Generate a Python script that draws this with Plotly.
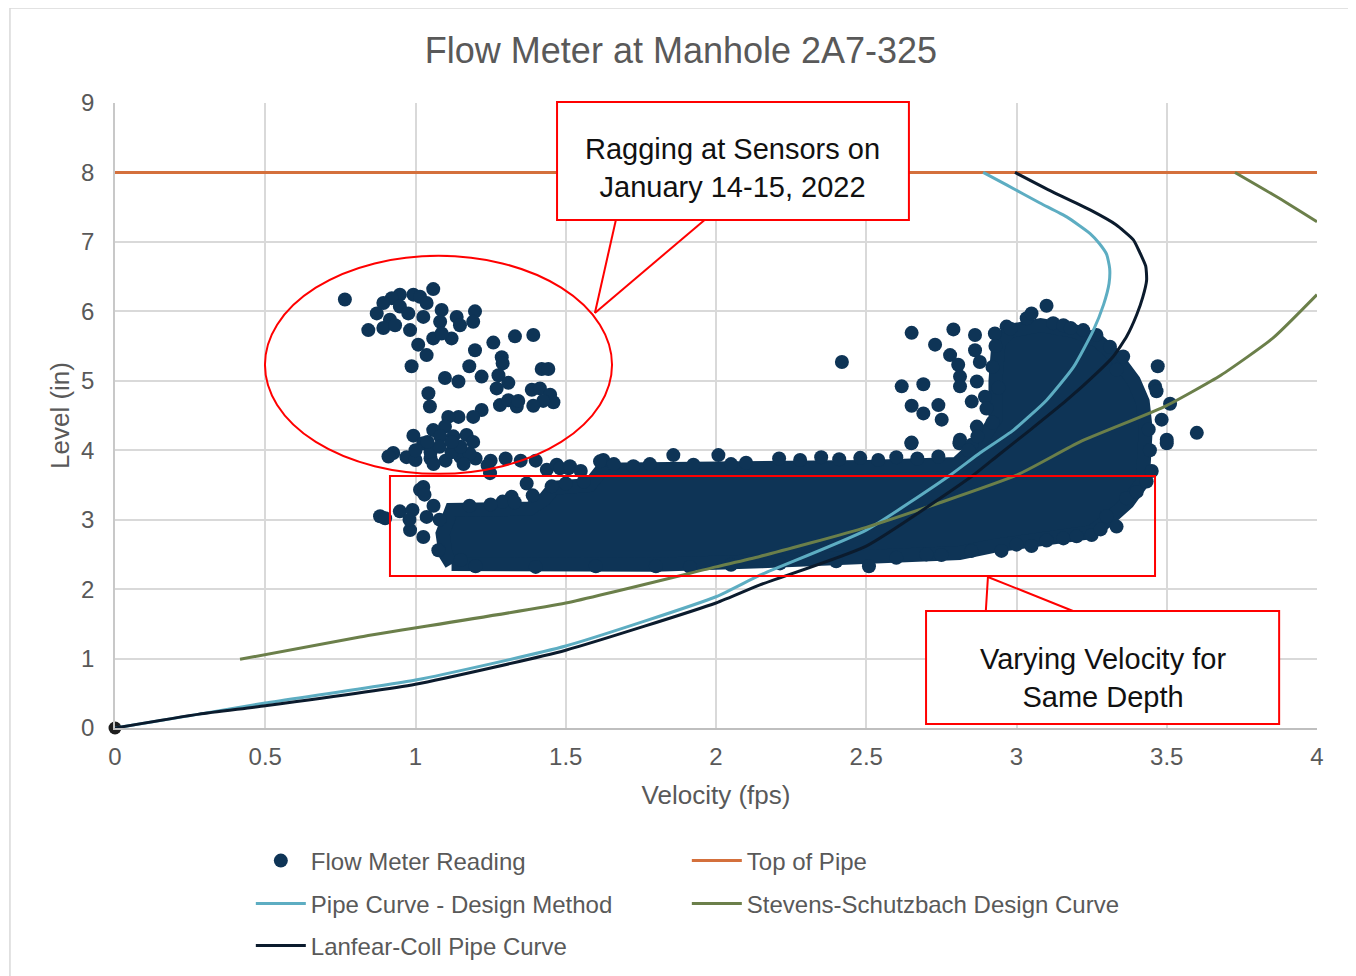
import plotly.graph_objects as go

# ---------------- data ----------------
# individual flow-meter readings (velocity fps, level in)
flow_v = [0.765, 1.059, 0.948, 0.993, 1.015, 0.921, 0.893, 0.871, 0.915, 0.948, 1.037, 1.026, 0.976,
          0.843, 0.893, 0.932, 0.982, 1.087, 1.082, 1.137, 1.198, 1.192, 1.148, 1.120, 1.059, 1.009,
          1.037, 1.087, 0.987, 1.259, 1.331, 1.392, 1.198, 1.287, 1.290, 1.179, 1.220, 1.098, 1.143,
          1.276, 1.309, 1.270, 1.420, 1.442, 1.387, 1.414, 1.448, 1.459, 1.425, 1.392, 1.281, 1.309,
          1.337, 1.342, 1.043, 1.048, 1.220, 1.192, 1.143, 1.109, 1.098, 1.059, 1.170, 1.192, 0.993,
          1.026, 1.082, 1.126, 0.926, 0.910,
          0.97, 1.00, 1.05, 1.10, 1.15, 1.20, 1.25, 1.30, 1.35, 1.40, 1.05, 1.12, 1.18, 1.08, 1.15,
          1.04, 1.12, 1.00, 1.06, 1.16, 1.24,
          1.437, 1.470, 1.509, 1.625, 1.370, 1.026, 1.248,
          1.481, 1.514, 1.614, 1.725, 1.858, 1.925, 2.008, 1.32, 1.29, 1.453, 2.65, 2.81, 1.66, 1.78,
          1.55, 2.05, 2.10, 2.21, 2.28, 2.35, 2.41, 2.48, 2.54, 2.60, 2.67, 2.74,
          0.882, 0.899, 0.948, 0.982, 1.026, 1.037, 0.99, 1.076, 1.015, 1.03, 0.98, 1.06, 1.08,
          1.18, 1.25, 1.33, 1.39, 1.50, 1.56,
          1.913, 2.509, 2.213, 3.156, 3.25, 3.333, 1.2, 1.4, 1.6, 1.8, 2.7, 2.95, 3.05, 1.15, 2.4, 2.05,
          2.60, 2.75, 2.85, 3.00, 3.10, 3.20, 3.28,
          3.47, 3.461, 3.466, 3.511, 3.60, 3.50, 3.483, 3.444, 3.50, 3.433, 3.366, 3.30, 3.034, 3.05,
          3.10, 3.122, 3.156, 3.222, 3.266, 3.311, 3.355, 3.333, 2.967, 2.928, 2.862, 2.79, 2.729, 2.651,
          2.618, 2.69, 2.651, 2.69, 2.74, 2.751, 2.651, 2.812, 2.851, 2.779, 2.806, 2.812, 2.812, 2.862,
          2.878, 2.868, 2.851, 2.895, 2.868, 2.419,
          2.93, 2.92, 2.94, 2.90, 2.92, 2.87, 2.84, 2.98, 3.18, 3.44, 3.45, 3.40]
flow_l = [6.17, 6.32, 6.24, 6.24, 6.21, 6.19, 6.12, 5.97, 5.88, 6.07, 6.12, 5.92, 5.97,
          5.73, 5.76, 5.80, 5.73, 6.02, 5.85, 5.92, 6.00, 5.85, 5.80, 5.61, 5.61, 5.52,
          5.37, 5.68, 5.21, 5.55, 5.64, 5.66, 5.44, 5.34, 5.25, 5.21, 5.06, 5.04, 4.99,
          5.08, 4.97, 4.89, 5.17, 5.17, 4.87, 4.89, 4.80, 4.69, 4.71, 4.64, 4.65, 4.72,
          4.63, 4.71, 4.82, 4.63, 4.58, 4.48, 4.48, 4.48, 4.34, 4.29, 4.22, 4.12, 4.21,
          4.10, 4.20, 4.20, 3.96, 3.91,
          3.90, 3.86, 3.88, 3.85, 3.90, 3.88, 3.85, 3.88, 3.85, 3.85, 3.97, 3.97, 3.95, 4.05, 4.05,
          4.12, 4.12, 4.00, 3.80, 3.80, 3.78,
          3.72, 3.79, 3.74, 3.86, 3.52, 3.47, 3.67,
          3.74, 3.77, 3.84, 3.77, 3.93, 3.79, 3.93, 3.33, 3.26, 3.48, 4.10, 4.10, 3.80, 3.80,
          3.70, 3.80, 3.82, 3.88, 3.86, 3.90, 3.87, 3.89, 3.86, 3.90, 3.88, 3.91,
          3.05, 3.02, 3.12, 2.85, 2.75, 3.04, 3.14, 2.56, 3.43, 3.36, 3.00, 3.20, 3.00,
          3.20, 3.22, 3.25, 3.35, 3.52, 3.55,
          2.32, 2.33, 2.37, 2.73, 2.78, 2.90, 2.33, 2.32, 2.33, 2.33, 2.50, 2.55, 2.62, 2.42, 2.40, 2.35,
          2.45, 2.49, 2.55, 2.64, 2.70, 2.76, 2.86,
          5.21, 4.92, 4.85, 4.67, 4.25, 4.15, 4.44, 4.00, 4.10, 3.55, 3.31, 3.05, 5.90, 5.97,
          6.08, 5.83, 5.80, 5.73, 5.66, 5.49, 5.35, 5.16, 5.78, 5.68, 5.66, 5.74, 5.52, 5.69,
          4.92, 4.95, 4.64, 4.53, 4.65, 4.44, 4.11, 4.15, 4.08, 5.37, 5.23, 5.06, 4.92, 5.44,
          5.27, 4.99, 4.70, 4.77, 4.34, 5.27,
          5.50, 5.20, 4.90, 4.60, 4.40, 4.20, 4.00, 5.75, 5.76, 4.30, 3.70, 3.40]

# outline of the solid, fully overlapped core of the reading cloud
core_v = [1.12, 1.50, 1.80, 2.15, 2.50, 2.81, 2.92, 3.05, 3.16, 3.25, 3.30, 3.37, 3.42, 3.43, 3.43,
          3.42, 3.39, 3.33, 3.27, 3.19, 3.08, 2.98, 2.94, 2.93, 2.93, 2.88, 2.80, 2.50, 2.00, 1.62,
          1.58, 1.46, 1.43, 1.38, 1.12, 1.09, 1.10, 1.12]
core_l = [2.36, 2.34, 2.35, 2.40, 2.45, 2.52, 2.62, 2.70, 2.76, 2.82, 2.98, 3.25, 3.55, 3.90, 4.30,
          4.70, 5.00, 5.35, 5.58, 5.72, 5.80, 5.72, 5.55, 5.00, 4.45, 4.12, 3.80, 3.76, 3.74, 3.72,
          3.50, 3.46, 3.30, 3.16, 3.14, 2.80, 2.50, 2.36]

origin_v = [0]
origin_l = [0]

top_v = [0, 4]
top_l = [8, 8]

pipe_v = [0, 0.28, 0.5, 1.0, 1.5, 2.0, 2.146, 2.5, 2.779, 2.878, 2.99, 3.10, 3.19, 3.256, 3.29,
          3.308, 3.31, 3.30, 3.275, 3.245, 3.167, 3.078, 2.967, 2.889]
pipe_l = [0, 0.2, 0.36, 0.69, 1.18, 1.89, 2.20, 2.85, 3.64, 3.96, 4.29, 4.72, 5.20, 5.73, 6.10,
          6.40, 6.62, 6.82, 6.98, 7.12, 7.36, 7.56, 7.82, 8.0]

ss_v = [0.416, 0.815, 1.5, 2.0, 2.146, 2.5, 3.0, 3.211, 3.489, 3.68, 3.855, 4.0, None, 3.727, 3.866, 4.0]
ss_l = [0.99, 1.31, 1.80, 2.32, 2.47, 2.89, 3.64, 4.12, 4.62, 5.08, 5.62, 6.24, None, 8.0, 7.65, 7.29]

lc_v = [0, 0.28, 0.5, 1.0, 1.5, 2.0, 2.146, 2.5, 2.856, 2.934, 3.045, 3.167, 3.267, 3.322, 3.367,
        3.40, 3.42, 3.433, 3.43, 3.41, 3.389, 3.33, 3.245, 3.12, 2.995]
lc_l = [0, 0.2, 0.32, 0.63, 1.12, 1.80, 2.06, 2.62, 3.64, 3.91, 4.29, 4.72, 5.11, 5.35, 5.64,
        5.95, 6.20, 6.45, 6.65, 6.85, 7.03, 7.25, 7.46, 7.72, 8.0]

x_ticks = [0, 0.5, 1, 1.5, 2, 2.5, 3, 3.5, 4]
y_ticks = [0, 1, 2, 3, 4, 5, 6, 7, 8, 9]

# ---------------- styling ----------------
FONT = "Liberation Sans, Arial, sans-serif"
GREY = "#595959"
NAVY = "#0E3456"
RED = "#FF0000"

fig = go.Figure()

fig.add_trace(go.Scatter(x=core_v, y=core_l, mode="lines", fill="toself", fillcolor=NAVY,
                         line=dict(color=NAVY, width=14), showlegend=False, hoverinfo="skip"))
fig.add_trace(go.Scatter(x=flow_v, y=flow_l, mode="markers", name="Flow Meter Reading",
                         marker=dict(color=NAVY, size=14), legend="legend"))
fig.add_trace(go.Scatter(x=origin_v, y=origin_l, mode="markers", showlegend=False, cliponaxis=False,
                         marker=dict(color="#1e1e1e", size=13)))
fig.add_trace(go.Scatter(x=top_v, y=top_l, mode="lines", name="Top of Pipe",
                         line=dict(color="#D4703C", width=3), legend="legend"))
fig.add_trace(go.Scatter(x=pipe_v, y=pipe_l, mode="lines", name="Pipe Curve - Design Method",
                         line=dict(color="#5DADC2", width=3, shape="spline", smoothing=0.5),
                         legend="legend2"))
fig.add_trace(go.Scatter(x=ss_v, y=ss_l, mode="lines", name="Stevens-Schutzbach Design Curve",
                         line=dict(color="#6B7F4A", width=3, shape="spline", smoothing=0.5),
                         legend="legend2"))
fig.add_trace(go.Scatter(x=lc_v, y=lc_l, mode="lines", name="Lanfear-Coll Pipe Curve",
                         line=dict(color="#0B1B2D", width=3, shape="spline", smoothing=0.5),
                         legend="legend3"))

legend_common = dict(orientation="h", font=dict(family=FONT, size=24, color=GREY),
                     entrywidth=371, entrywidthmode="pixels", bgcolor="rgba(0,0,0,0)",
                     itemwidth=50, xanchor="left", yanchor="middle", x=0.1130)

shapes = [
    # chart frame (left, top, right edges)
    dict(type="path", xref="paper", yref="paper",
         path="M -0.0874,-0.40 L -0.0874,1.152 L 1.030,1.152 L 1.030,-0.40",
         line=dict(color="#D9D9D9", width=1.5), layer="below"),
    # ellipse around ragging readings
    dict(type="circle", xref="x", yref="y", x0=0.499, x1=1.654, y0=3.66, y1=6.80,
         line=dict(color=RED, width=2)),
    # rectangle around varying velocity band
    dict(type="rect", xref="x", yref="y", x0=0.915, x1=3.461, y0=2.19, y1=3.63,
         line=dict(color=RED, width=2)),
    # callout 1
    dict(type="line", xref="x", yref="y", x0=1.667, y0=7.32, x1=1.597, y1=5.976,
         line=dict(color=RED, width=2)),
    dict(type="line", xref="x", yref="y", x0=1.963, y0=7.32, x1=1.597, y1=5.976,
         line=dict(color=RED, width=2)),
    dict(type="rect", xref="x", yref="paper", x0=1.471, x1=2.642, y0=0.8128, y1=1.0016,
         fillcolor="white", line=dict(color=RED, width=2)),
    # callout 2
    dict(type="line", xref="x", yref="y", x0=2.898, y0=1.685, x1=2.905, y1=2.175,
         line=dict(color=RED, width=2)),
    dict(type="line", xref="x", yref="y", x0=3.188, y0=1.685, x1=2.905, y1=2.175,
         line=dict(color=RED, width=2)),
    dict(type="rect", xref="x", yref="y", x0=2.699, x1=3.874, y0=0.058, y1=1.685,
         fillcolor="white", line=dict(color=RED, width=2)),
]

annotations = [
    dict(x=2.0565, y=8.065, xref="x", yref="y", text="Ragging at Sensors on<br>January 14-15, 2022",
         showarrow=False, font=dict(family=FONT, size=29, color="#111111"), align="center"),
    dict(x=3.2865, y=0.72, xref="x", yref="y", text="Varying Velocity for<br>Same Depth",
         showarrow=False, font=dict(family=FONT, size=29, color="#111111"), align="center"),
]

fig.update_layout(
    width=1356, height=976,
    margin=dict(l=107, r=47, t=95, b=256),
    paper_bgcolor="white", plot_bgcolor="white",
    font=dict(family=FONT, color=GREY),
    title=dict(text="Flow Meter at Manhole 2A7-325", x=0.4963, xref="container", xanchor="center",
               y=0.957, yref="container", yanchor="middle",
               font=dict(family=FONT, size=36, color=GREY)),
    xaxis=dict(range=[0, 4], tickvals=x_ticks, ticktext=[f"{v:g}" for v in x_ticks],
               showgrid=True, gridcolor="#D9D9D9", gridwidth=1.5, zeroline=False,
               showline=True, linecolor="#BFBFBF", linewidth=1.5,
               tickfont=dict(family=FONT, size=24, color=GREY), ticklabelstandoff=6,
               title=dict(text="Velocity (fps)", font=dict(family=FONT, size=26, color=GREY),
                          standoff=17)),
    yaxis=dict(range=[0, 9], tickvals=y_ticks, ticktext=[str(v) for v in y_ticks],
               showgrid=True, gridcolor="#D9D9D9", gridwidth=1.5, zeroline=False,
               showline=True, linecolor="#C8C8C8", linewidth=1.5,
               tickfont=dict(family=FONT, size=24, color=GREY), ticklabelstandoff=14,
               title=dict(text="Level (in)", font=dict(family=FONT, size=26, color=GREY),
                          standoff=4)),
    legend=dict(**legend_common, y=-0.2128),
    legend2=dict(**legend_common, y=-0.2816),
    legend3=dict(**legend_common, y=-0.3488),
    shapes=shapes,
    annotations=annotations,
)

fig.write_html("out.html")
